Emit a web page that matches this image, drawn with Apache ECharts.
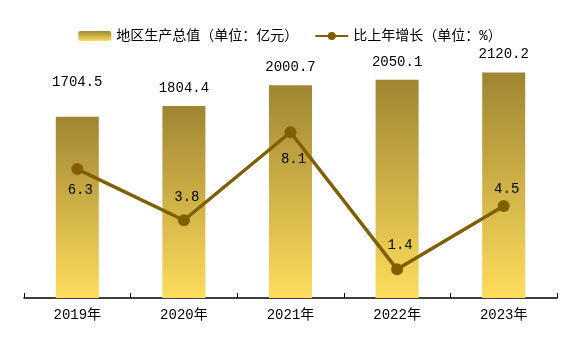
<!DOCTYPE html>
<html>
<head>
<meta charset="utf-8">
<style>
  html, body { margin: 0; padding: 0; background: #ffffff; }
  #chart { width: 580px; height: 353px; }
</style>
<script src="https://cdn.jsdelivr.net/npm/echarts@6/dist/echarts.min.js"></script>
</head>
<body>
<div id="chart"></div>
<script>
// ---- data ----
const years = ['2019年', '2020年', '2021年', '2022年', '2023年'];
const gdpValues = [1704.5, 1804.4, 2000.7, 2050.1, 2120.2];
const growthValues = [6.3, 3.8, 8.1, 1.4, 4.5];

const gdpName = '地区生产总值（单位：亿元）';
const growthName = '比上年增长（单位：%）';

// label placement (style only)
const gdpLabelGap = [27, 11, 11, 11, 11];
const growthLabelPos = ['bottom', 'top', 'bottom', 'top', 'top'];
const growthLabelGap = [8, 10, 14, 11, 4];

const FONT = "'Liberation Mono', 'Noto Sans CJK SC', monospace";
const LINE_COLOR = '#7f5f00';

const chart = echarts.init(document.getElementById('chart'), null, { renderer: 'canvas' });

chart.setOption({
    backgroundColor: '#ffffff',
    animation: false,
    textStyle: { fontFamily: FONT, color: '#000' },
    legend: {
        top: 24,
        left: 'center',
        itemWidth: 33,
        itemHeight: 10,
        itemGap: 16,
        textStyle: { fontSize: 14, color: '#000', fontFamily: FONT },
        data: [gdpName, growthName]
    },
    grid: { left: 24, right: 23, top: 32, bottom: 55 },
    xAxis: {
        type: 'category',
        data: years,
        axisLine: { lineStyle: { color: '#000', width: 1.5 } },
        axisTick: { show: true, inside: true, length: 5, lineStyle: { color: '#000' } },
        axisLabel: { color: '#000', fontSize: 14, margin: 10, fontFamily: FONT },
        splitLine: { show: false }
    },
    yAxis: [
        { type: 'value', min: 0, max: 2500, show: false, splitLine: { show: false } },
        { type: 'value', min: 0, max: 13, show: false, splitLine: { show: false } }
    ],
    series: [
        {
            name: gdpName,
            type: 'bar',
            yAxisIndex: 0,
            barWidth: 43,
            itemStyle: {
                color: new echarts.graphic.LinearGradient(0, 0, 0, 1, [
                    { offset: 0, color: '#a08532' },
                    { offset: 1, color: '#fddd5c' }
                ])
            },
            data: gdpValues.map((v, i) => ({
                value: v,
                label: {
                    show: true,
                    position: 'top',
                    distance: gdpLabelGap[i],
                    formatter: (p) => p.value.toFixed(1),
                    fontSize: 14,
                    color: '#000',
                    fontFamily: FONT
                }
            }))
        },
        {
            name: growthName,
            type: 'line',
            yAxisIndex: 1,
            symbol: 'circle',
            symbolSize: 12,
            lineStyle: { color: LINE_COLOR, width: 3.5 },
            itemStyle: { color: LINE_COLOR },
            data: growthValues.map((v, i) => ({
                value: v,
                label: {
                    show: true,
                    position: growthLabelPos[i],
                    distance: growthLabelGap[i],
                    offset: [3, 0],
                    formatter: (p) => p.value.toFixed(1),
                    fontSize: 14,
                    color: '#000',
                    fontFamily: FONT
                }
            }))
        }
    ]
});
</script>
</body>
</html>
